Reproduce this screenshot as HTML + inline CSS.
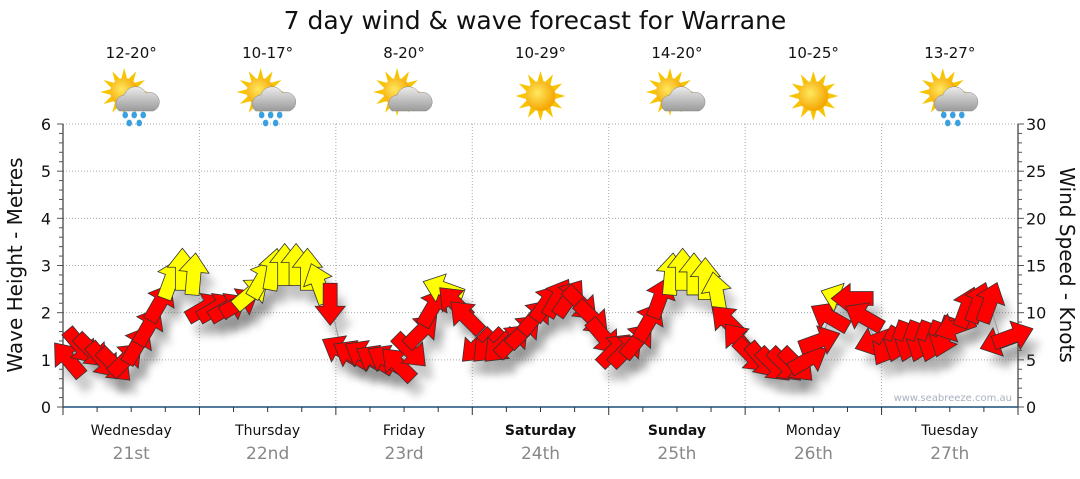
<!DOCTYPE html>
<html><head><meta charset="utf-8">
<style>
html,body{margin:0;padding:0;background:#fff;}
body{width:1080px;height:475px;overflow:hidden;font-family:"DejaVu Sans","Liberation Sans",sans-serif;}
svg text{font-family:"DejaVu Sans","Liberation Sans",sans-serif;}
</style></head>
<body>
<svg id="chart" width="1080" height="475" viewBox="0 0 1080 475" xmlns="http://www.w3.org/2000/svg">
<defs>
<filter id="sh" x="-50%" y="-50%" width="200%" height="200%"><feGaussianBlur stdDeviation="4"/></filter>
<radialGradient id="sun" cx="0.4" cy="0.4" r="0.6"><stop offset="0" stop-color="#ffe860"/><stop offset="1" stop-color="#f5a500"/></radialGradient>
<linearGradient id="cloud" x1="0" y1="0" x2="0" y2="1"><stop offset="0" stop-color="#ececec"/><stop offset="1" stop-color="#9a9a9a"/></linearGradient>
</defs>
<text x="535" y="29" font-size="25" text-anchor="middle" fill="#111">7 day wind &amp; wave forecast for Warrane</text>
<g id="grid"></g>
<g id="axes"></g>
<g id="icons"></g>
<g id="shadows"></g>
<polyline id="windline" fill="none" stroke="#999" stroke-width="1"/>
<g id="arrows"></g>
<text x="1012" y="401" font-size="10" text-anchor="end" fill="#a8b0c0">www.seabreeze.com.au</text>
<text transform="translate(22,265) rotate(-90)" font-size="20" text-anchor="middle" fill="#111">Wave Height - Metres</text>
<text transform="translate(1060,265) rotate(90)" font-size="20" text-anchor="middle" fill="#111">Wind Speed - Knots</text>
</svg>
<script>
const days = ["Wednesday","Thursday","Friday","Saturday","Sunday","Monday","Tuesday"];
const dates = ["21st","22nd","23rd","24th","25th","26th","27th"];
const boldDays = [false,false,false,true,true,false,false];
const temps = ["12-20°","10-17°","8-20°","10-29°","14-20°","10-25°","13-27°"];
const weather = ["rain","rain","cloud","sun","cloud","sun","rain"];
const waveTicks = [0,1,2,3,4,5,6];
const windTicks = [0,5,10,15,20,25,30];
// wind speed (knots), 2-hourly
const windSpeed = [5,6.5,6,5,4.5,5,6.5,8.5,11,13.5,14.5,14,
 10.5,10.5,10.5,11,12,13.5,14.5,15,15,14.5,13,11,
 6,5.5,5.5,5,5,4.5,6,8,10.5,12.5,11,9.5,
 6.5,6.5,6.5,7,8,9.5,11,11.5,11.5,11,9.5,7.5,
 6,6,7,9,11.5,14,14.5,14,13.5,12,9,7,
 5.5,5,4.5,4.5,4.5,5,7,9.5,11.5,11.5,9.5,7,
 6.5,7,7,7,7,7.5,8.5,10.5,11,11,7,7.5];
// arrow heading (deg, 0 = up, clockwise)
const windDir = [320,140,135,140,135,45,30,30,30,20,0,5,
 60,60,60,60,50,30,10,0,0,0,340,180,
 300,300,300,300,300,315,135,45,30,290,315,315,
 225,225,225,45,45,40,35,30,35,135,135,140,
 45,45,40,30,20,5,0,0,0,350,315,320,
 135,140,135,135,135,60,70,300,290,270,300,250,
 210,200,200,200,200,200,250,20,20,20,250,70];
const windColour = ["r","r","r","r","r","r","r","r","r","y","y","y",
 "r","r","r","r","y","y","y","y","y","y","y","r",
 "r","r","r","r","r","r","r","r","r","y","r","r",
 "r","r","r","r","r","r","r","r","r","r","r","r",
 "r","r","r","r","r","y","y","y","y","y","r","r",
 "r","r","r","r","r","r","r","r","y","r","r","r",
 "r","r","r","r","r","r","r","r","r","r","r","r"];

const X0=63, X1=1018, Y0=407, Y6=124;
const dayW=(X1-X0)/7;
const yWave=v=>Y0-(Y0-Y6)*v/6;
const yWind=k=>Y0-(Y0-Y6)*k/30;
const xTime=h=>X0+h/24*dayW;
const NS="http://www.w3.org/2000/svg";
function mk(tag,attrs,parent){const e=document.createElementNS(NS,tag);for(const k in attrs)e.setAttribute(k,attrs[k]);parent.appendChild(e);return e;}

const grid=document.getElementById('grid');
waveTicks.forEach(v=>{ if(v>0){const l=mk('line',{x1:X0,x2:X1,y1:yWave(v),y2:yWave(v),stroke:'#aaa','stroke-dasharray':'1,2'},grid);

}});
for(let d=1;d<7;d++){const l=mk('line',{x1:X0+d*dayW,x2:X0+d*dayW,y1:Y6,y2:Y0,stroke:'#aaa','stroke-dasharray':'1,2'},grid);

}

const ax=document.getElementById('axes');
mk('line',{x1:X0,x2:X0,y1:Y6,y2:Y0,stroke:'#111'},ax);
mk('line',{x1:X1,x2:X1,y1:Y6,y2:Y0,stroke:'#111'},ax);
const base=mk('line',{x1:X0,x2:X1,y1:Y0,y2:Y0,stroke:'#1a4f7a','stroke-width':1.5},ax);


for(let i=0;i<=30;i++){const y=yWave(i/5);mk('line',{x1:X0-(i%5?4:6),x2:X0,y1:y,y2:y,stroke:'#555'},ax);
 mk('line',{x1:X1,x2:X1+(i%5?4:6),y1:yWind(i),y2:yWind(i),stroke:'#555'},ax);}
waveTicks.forEach(v=>{const t=mk('text',{x:X0-12,y:yWave(v)+6,'font-size':16,'text-anchor':'end',fill:'#111'},ax);t.textContent=v;

});
windTicks.forEach(v=>{const t=mk('text',{x:X1+8,y:yWind(v)+6,'font-size':16,fill:'#111'},ax);t.textContent=v;

});
for(let i=0;i<=28;i++){const x=X0+i*dayW/4;mk('line',{x1:x,x2:x,y1:Y0,y2:Y0+(i%4?5:8),stroke:'#333'},ax);}
days.forEach((d,i)=>{const cx=X0+(i+.5)*dayW;
 const t=mk('text',{x:cx,y:435,'font-size':14,'text-anchor':'middle',fill:'#111','font-weight':boldDays[i]?'bold':'normal'},ax);t.textContent=d;
 
 
 const t2=mk('text',{x:cx,y:459,'font-size':17,'text-anchor':'middle',fill:'#888'},ax);t2.textContent=dates[i];
 
 
 const t3=mk('text',{x:cx,y:58,'font-size':15,'text-anchor':'middle',fill:'#111'},ax);t3.textContent=temps[i];
 
 
});

const ic=document.getElementById('icons');
weather.forEach((w,i)=>{const cx=X0+(i+.5)*dayW, cy=97;
 const g=mk('g',{},ic);
 
 
 const sx= w==='sun'?cx:cx-7, sy= w==='sun'?cy-1:cy-5;
 const R= w==='sun'?15:14;
 for(let k=0;k<12;k++){const a=k*Math.PI/6;mk('polygon',{points:`${sx+Math.cos(a-0.2)*R},${sy+Math.sin(a-0.2)*R} ${sx+Math.cos(a)*(R+10)},${sy+Math.sin(a)*(R+10)} ${sx+Math.cos(a+0.2)*R},${sy+Math.sin(a+0.2)*R}`,fill:'#f7c400'},g);}
 mk('circle',{cx:sx,cy:sy,r:R,fill:'url(#sun)'},g);
 if(w!=='sun'){mk('path',{d:`M${cx-12},${cy+14} a9,9 0 0 1 5,-16 a12,12 0 0 1 22,-2 a9,9 0 0 1 7,18 z`,fill:'url(#cloud)',stroke:'#888','stroke-width':0.5},g);}
 if(w==='rain'){[[-6,18],[3,18],[12,18],[-2,26],[8,26]].forEach(p=>mk('ellipse',{cx:cx+p[0],cy:cy+p[1],rx:2.8,ry:3.4,fill:'#3aa0e0'},g));}
});

const sh=document.getElementById('shadows'), ar=document.getElementById('arrows');
const pts=[];
const shape='-7,20 7,20 7,-3 15,-3 0,-22 -15,-3 -7,-3';
windSpeed.forEach((k,i)=>{
 const x=xTime(i*2+1), y=yWind(k); pts.push(x+','+y);
 const s=mk('g',{transform:`translate(${x+8},${y+14}) rotate(${windDir[i]})`,filter:'url(#sh)',opacity:0.3},sh);
 mk('polygon',{points:shape,fill:'#555'},s);
 const g=mk('g',{transform:`translate(${x},${y}) rotate(${windDir[i]})`},ar);
 
 
 mk('polygon',{points:shape,fill:windColour[i]==='y'?'#ffff00':'#ff0000',stroke:'#333','stroke-width':0.8},g);
});
document.getElementById('windline').setAttribute('points',pts.join(' '));
</script>
</body></html>
